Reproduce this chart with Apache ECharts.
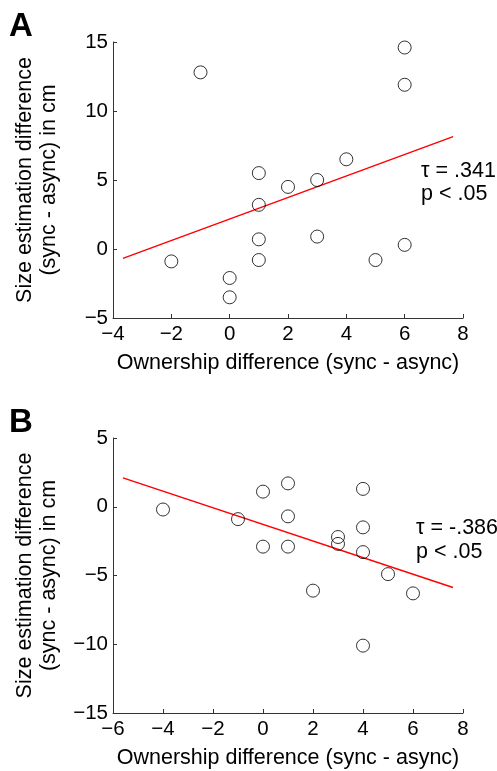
<!DOCTYPE html>
<html>
<head>
<meta charset="utf-8">
<script src="https://cdn.jsdelivr.net/npm/echarts@6/dist/echarts.min.js"></script>
<style>
html,body{margin:0;padding:0;background:#fff;}
#chart{width:497px;height:771px;}
</style>
</head>
<body>
<div id="chart"></div>
<script>
// Panel A data
const ownA = [-1, 6, 6, 4, 1, 2, 3, 1, 1, 1, 3, 5, 6, -2, 0, 0];
const sizeA = [12.8, 14.6, 11.9, 6.5, 5.5, 4.5, 5.0, 3.2, 0.7, -0.8, 0.9, -0.8, 0.3, -0.9, -2.1, -3.5];
const fitAx = [-3.66, 7.66];
const fitAy = [-0.68, 8.14];
const statA = ['τ = .341', 'p < .05'];

// Panel B data
const ownB = [-4, -1, 0, 1, 4, 1, 4, 0, 1, 3, 3, 4, 5, 2, 6, 4];
const sizeB = [-0.2, -0.9, 1.1, 1.7, 1.3, -0.7, -1.5, -2.9, -2.9, -2.2, -2.7, -3.3, -4.9, -6.1, -6.3, -10.1];
const fitBx = [-5.6, 7.6];
const fitBy = [2.1, -5.87];
const statB = ['τ = -.386', 'p < .05'];

const xNameTxt = 'Ownership difference (sync - async)';
const yNameTxt = 'Size estimation difference\n(sync - async) in cm';

const FONT = '"Liberation Sans", Arial, Helvetica, sans-serif';
const fmt = v => String(v).replace('-', '\u2212');

function xAxis(gi, min, max) {
  return {
    type: 'value', gridIndex: gi, min: min, max: max, interval: 2,
    name: xNameTxt, nameLocation: 'middle', nameGap: 34,
    nameTextStyle: {fontFamily: FONT, fontSize: 21.5, color: '#000'},
    axisLine: {show: true, onZero: false, lineStyle: {color: '#333', width: 1}},
    axisTick: {show: true, inside: true, length: 4, lineStyle: {color: '#333'}},
    axisLabel: {show: true, fontFamily: FONT, fontSize: 20.5, color: '#000', margin: 6, formatter: fmt, showMinLabel: true, showMaxLabel: true},
    splitLine: {show: false}
  };
}
function yAxis(gi, min, max) {
  return {
    type: 'value', gridIndex: gi, min: min, max: max, interval: 5,
    name: yNameTxt, nameLocation: 'middle', nameGap: 52, nameRotate: 90,
    nameTextStyle: {fontFamily: FONT, fontSize: 21.5, color: '#000', lineHeight: 24},
    axisLine: {show: true, onZero: false, lineStyle: {color: '#333', width: 1}},
    axisTick: {show: true, inside: true, length: 4, lineStyle: {color: '#333'}},
    axisLabel: {show: true, fontFamily: FONT, fontSize: 20.5, color: '#000', margin: 5, formatter: fmt, showMinLabel: true, showMaxLabel: true},
    splitLine: {show: false}
  };
}
const zip = (a, b) => a.map((v, i) => [v, b[i]]);

function scatter(gi, xs, ys) {
  return {
    type: 'scatter', xAxisIndex: gi, yAxisIndex: gi, data: zip(xs, ys),
    symbol: 'circle', symbolSize: 13, z: 3,
    itemStyle: {color: 'rgba(0,0,0,0)', borderColor: '#000', borderWidth: 1},
    emphasis: {disabled: true}
  };
}
function fit(gi, xs, ys) {
  return {
    type: 'line', xAxisIndex: gi, yAxisIndex: gi, data: zip(xs, ys),
    symbol: 'none', z: 2, lineStyle: {color: '#ff0000', width: 1.5}, animation: false
  };
}

const chart = echarts.init(document.getElementById('chart'), null, {renderer: 'canvas'});
chart.setOption({
  animation: false,
  backgroundColor: '#fff',
  grid: [
    {left: 113, top: 42, width: 350, height: 276},
    {left: 113, top: 438, width: 350, height: 275}
  ],
  xAxis: [xAxis(0, -4, 8), xAxis(1, -6, 8)],
  yAxis: [yAxis(0, -5, 15), yAxis(1, -15, 5)],
  series: [fit(0, fitAx, fitAy), scatter(0, ownA, sizeA), fit(1, fitBx, fitBy), scatter(1, ownB, sizeB)],
  graphic: [
    {type: 'text', left: 9, top: 10, style: {text: 'A', font: 'bold 33px ' + FONT, fill: '#000'}},
    {type: 'text', left: 9, top: 406, style: {text: 'B', font: 'bold 33px ' + FONT, fill: '#000'}},
    {type: 'text', left: 421, top: 160, style: {text: statA.join('\n'), font: '21.5px ' + FONT, fill: '#000', lineHeight: 23}},
    {type: 'text', left: 416, top: 516, style: {text: statB.join('\n'), font: '21.5px ' + FONT, fill: '#000', lineHeight: 24}}
  ]
});
</script>
</body>
</html>
